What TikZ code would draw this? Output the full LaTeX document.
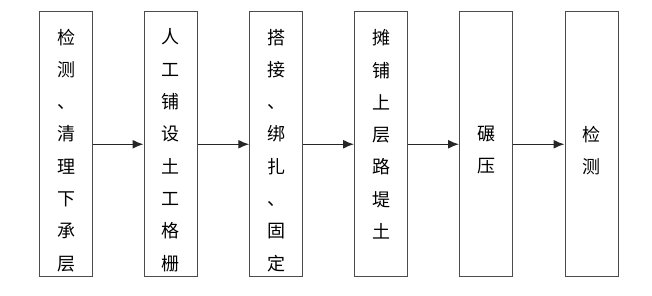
\documentclass[tikz,border=0pt]{standalone}
\usepackage{fontspec}
\setmainfont{Noto Sans CJK SC}
\usetikzlibrary{arrows.meta, positioning}

\begin{document}
\begin{tikzpicture}[x=1pt, y=1pt,
  pbox/.style={draw=black!70, line width=1pt, minimum width=53pt, minimum height=264.5pt, inner sep=0pt},
  ptext/.style={align=center, inner sep=0pt, yshift=-6pt, font=\fontsize{18}{32.3}\selectfont},
  parrow/.style={draw=black!85, line width=1.4pt, -{Latex[length=11pt, width=9pt]}}
]
  \useasboundingbox (0,0) rectangle (652,295);
  % process steps
  \node[pbox, label={[ptext]center:检\\测\\、\\清\\理\\下\\承\\层}] (jiance) at (66, 150.75) {};
  \node[pbox, label={[ptext]center:人\\工\\铺\\设\\土\\工\\格\\栅}] (pushe) at (170.5, 150.75) {};
  \node[pbox, label={[ptext]center:搭\\接\\、\\绑\\扎\\、\\固\\定}] (dajie) at (276.25, 150.75) {};
  \node[pbox, label={[ptext]center:摊\\铺\\上\\层\\路\\堤\\土\\\mbox{}}] (tanpu) at (381, 150.75) {};
  \node[pbox, label={[ptext]center:碾\\压}] (nianya) at (486, 150.75) {};
  \node[pbox, label={[ptext]center:检\\测}] (jiance2) at (591.5, 150.75) {};
  % arrows
  \draw[parrow] (jiance) -- (pushe);
  \draw[parrow] (pushe) -- (dajie);
  \draw[parrow] (dajie) -- (tanpu);
  \draw[parrow] (tanpu) -- (nianya);
  \draw[parrow] (nianya) -- (jiance2);
\end{tikzpicture}
\end{document}
